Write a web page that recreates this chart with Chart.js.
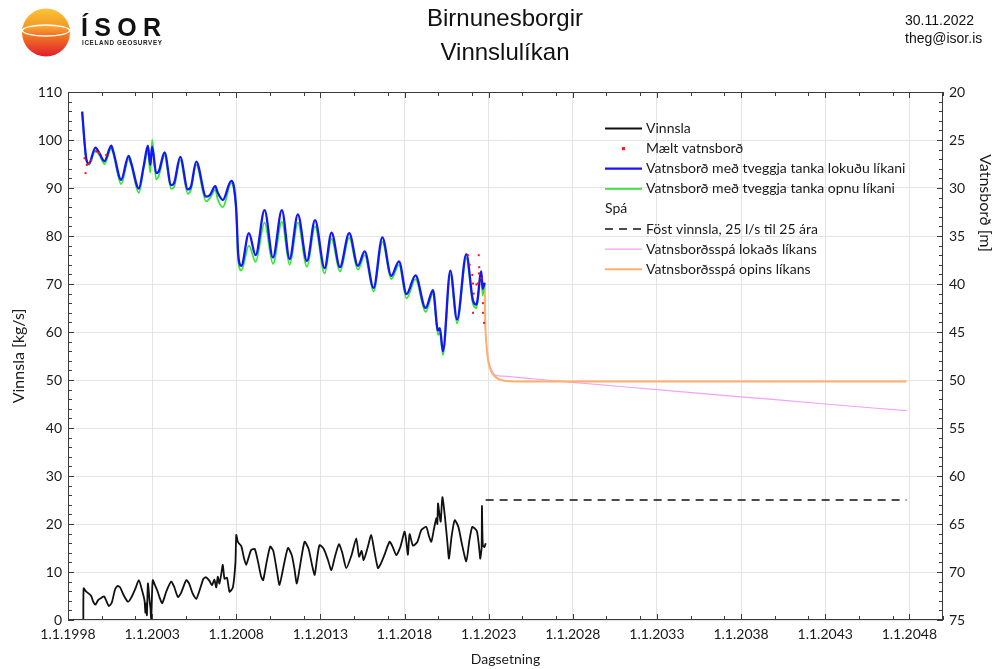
<!DOCTYPE html>
<html lang="is">
<head>
<meta charset="utf-8">
<title>Birnunesborgir - Vinnslulíkan</title>
<script src="https://cdn.jsdelivr.net/npm/chart.js@4.4.0/dist/chart.umd.min.js"></script>
<style>
    body { margin: 0; background: #fff; width: 995px; height: 669px; overflow: hidden; position: relative; }
    #chart { position: absolute; left: 0; top: 0; }
    .logo { position: absolute; left: 0; top: 0; }
    .heading { position: absolute; left: 305px; top: 1px; width: 400px; text-align: center;
        font: 24px "Liberation Sans", Arial, sans-serif; line-height: 34px; color: #111; }
    .stamp { position: absolute; left: 905px; top: 11px; font: 14px "Liberation Sans", Arial, sans-serif;
        line-height: 18px; color: #111; }
</style>
</head>
<body>
<canvas id="chart" width="995" height="669"></canvas>

<svg class="logo" width="175" height="62" viewBox="0 0 175 62">
    <defs>
        <linearGradient id="sun" x1="0" y1="0" x2="0" y2="1">
            <stop offset="0" stop-color="#f9c53a"/>
            <stop offset="0.45" stop-color="#f4901f"/>
            <stop offset="1" stop-color="#e11d2f"/>
        </linearGradient>
        <linearGradient id="band" x1="0" y1="0" x2="0" y2="1">
            <stop offset="0" stop-color="#f9b23a"/>
            <stop offset="1" stop-color="#f26a22"/>
        </linearGradient>
    </defs>
    <circle cx="46" cy="32.5" r="24" fill="url(#sun)"/>
    <ellipse cx="46" cy="30.5" rx="23.6" ry="5.5" fill="url(#band)" stroke="#fff" stroke-width="1.3"/>
    <text x="81" y="36" font-family="Liberation Sans, Arial, sans-serif" font-weight="bold" font-size="25"
          textLength="80" lengthAdjust="spacing" fill="#111">ÍSOR</text>
    <text x="82" y="45" font-family="Liberation Sans, Arial, sans-serif" font-weight="bold" font-size="6.3"
          textLength="80" lengthAdjust="spacing" fill="#222">ICELAND GEOSURVEY</text>
</svg>

<div class="heading">Birnunesborgir<br>Vinnslulíkan</div>
<div class="stamp">30.11.2022<br>theg@isor.is</div>

<script>
// x axis labels (1. jan. of every fifth year)
const yearTicks = [1998, 2003, 2008, 2013, 2018, 2023, 2028, 2033, 2038, 2043, 2048];

// Vinnsla [kg/s], left axis
const vinnslaYears = [
    1998.91, 1998.93, 1999.05, 1999.2, 1999.38, 1999.5, 1999.63, 1999.8, 1999.97, 2000.15,
    2000.3, 2000.43, 2000.6, 2000.8, 2000.96, 2001.1, 2001.3, 2001.56, 2001.75, 2002.0,
    2002.21, 2002.4, 2002.55, 2002.6, 2002.66, 2002.69, 2002.75, 2002.85, 2002.9, 2002.94,
    2003.0, 2003.04, 2003.15, 2003.3, 2003.45, 2003.6, 2003.85, 2004.13, 2004.3, 2004.53,
    2004.7, 2005.03, 2005.2, 2005.4, 2005.62, 2005.85, 2006.05, 2006.21, 2006.4, 2006.55,
    2006.7, 2006.81, 2006.9, 2007.0, 2007.1, 2007.2, 2007.3, 2007.45, 2007.6, 2007.8,
    2007.95, 2008.0, 2008.1, 2008.3, 2008.45, 2008.59, 2008.75, 2008.89, 2009.1, 2009.3,
    2009.48, 2009.6, 2009.8, 2010.02, 2010.2, 2010.4, 2010.57, 2010.8, 2011.07, 2011.3,
    2011.45, 2011.6, 2011.8, 2012.06, 2012.3, 2012.5, 2012.66, 2012.8, 2012.95, 2013.2,
    2013.45, 2013.65, 2013.85, 2014.1, 2014.3, 2014.54, 2014.85, 2015.13, 2015.3, 2015.45,
    2015.57, 2015.8, 2016.02, 2016.2, 2016.42, 2016.6, 2016.8, 2017.11, 2017.3, 2017.51,
    2017.75, 2018.0, 2018.1, 2018.2, 2018.3, 2018.5, 2018.75, 2019.0, 2019.29, 2019.45,
    2019.59, 2019.75, 2019.89, 2019.95, 2019.99, 2020.08, 2020.15, 2020.25, 2020.4, 2020.55,
    2020.64, 2020.8, 2020.98, 2021.2, 2021.4, 2021.67, 2021.85, 2022.03, 2022.3, 2022.45,
    2022.5, 2022.58, 2022.6, 2022.65, 2022.75, 2022.82
];
const vinnsla = [
    0, 6.6, 6.0, 5.6, 5.0, 3.8, 3.2, 4.2, 4.6, 4.9,
    3.8, 2.9, 3.6, 6.4, 7.1, 6.8, 5.2, 3.8, 4.6, 6.5,
    8.3, 6.2, 4.0, 1.5, 3.5, 1.0, 7.6, 4.0, 2.5, 0.0,
    6.0, 8.3, 7.4, 6.2, 4.6, 3.5, 6.0, 8.0, 7.0, 4.8,
    5.5, 8.3, 7.6, 5.6, 4.4, 6.5, 8.6, 8.9, 8.2, 7.2,
    8.4, 6.8, 9.0, 7.6, 9.4, 11.5, 8.6, 8.8, 5.9, 6.8,
    12.0, 17.7, 16.2, 15.4, 13.0, 11.5, 13.2, 14.6, 14.8, 12.0,
    9.0, 8.3, 12.0, 15.3, 14.4, 10.5, 7.3, 11.0, 15.0, 13.5,
    10.8, 7.6, 11.5, 16.3, 14.8, 11.5, 9.4, 12.8, 15.6, 14.8,
    12.5, 10.4, 13.0, 15.8, 14.0, 10.8, 13.5, 17.0, 13.2, 14.4,
    12.5, 15.0, 17.7, 14.5, 10.8, 11.8, 13.5, 16.3, 15.2, 13.5,
    15.2, 18.4, 16.5, 13.6, 17.9, 15.5, 16.2, 18.75, 19.4, 17.5,
    16.3, 19.0, 21.2, 20.0, 24.3, 21.8, 20.5, 25.6, 21.5, 16.0,
    12.8, 17.5, 20.8, 19.4, 16.0, 12.2, 16.5, 19.4, 18.5, 14.5,
    12.8, 15.0, 23.75, 15.6, 15.2, 16.0
];

// Föst vinnsla, 25 l/s til 25 ára
const fastYears = [2022.82, 2047.83];
const fastVinnsla = [25, 25];

// Vatnsborð [m] from the two tank models, right axis
const modelYears = [
    1998.84, 1999.08, 1999.24, 1999.63, 1999.87, 2000.17, 2000.57, 2000.7, 2001.16, 2001.6, 2001.75,
    2002.21, 2002.49, 2002.75, 2002.89, 2003.0, 2003.24, 2003.4, 2003.74, 2004.13, 2004.3,
    2004.67, 2005.12, 2005.3, 2005.62, 2006.21, 2006.45, 2006.75, 2006.9, 2007.2, 2007.7,
    2007.85, 2008.0, 2008.12, 2008.3, 2008.75, 2009.15, 2009.68, 2010.18, 2010.71, 2011.17,
    2011.66, 2012.2, 2012.68, 2013.25, 2013.66, 2014.16, 2014.71, 2015.23, 2015.63, 2016.16,
    2016.68, 2017.21, 2017.67, 2018.12, 2018.65, 2019.25, 2019.69, 2019.99, 2020.1, 2020.28,
    2020.72, 2021.12, 2021.67, 2022.07, 2022.27, 2022.56, 2022.64, 2022.76
];
const lokadLikan = [
    22.05, 26.9, 27.45, 25.8, 26.4, 27.2, 25.6, 26.25, 29.15, 26.65, 27.35,
    30.05, 27.8, 25.6, 27.6, 25.7, 28.45, 28.25, 26.3, 29.7, 29.5,
    26.75, 30.15, 29.9, 27.25, 30.9, 30.7, 29.8, 30.5, 31.25, 29.25,
    29.75, 32.3, 37.0, 38.1, 34.7, 37.0, 32.3, 37.25, 32.3, 37.4,
    32.75, 37.6, 33.35, 38.35, 34.65, 38.25, 34.7, 38.1, 36.6, 40.4,
    35.15, 39.15, 37.65, 41.05, 39.1, 42.5, 40.65, 44.85, 44.6, 47.0,
    38.6, 43.7, 36.9, 41.75, 42.15, 38.7, 40.5, 39.85
];
const opidLikan = [
    22.05, 27.0, 27.6, 26.1, 26.6, 27.5, 25.9, 26.5, 29.6, 27.0, 27.6,
    30.5, 28.0, 26.2, 28.4, 25.0, 29.1, 28.7, 26.6, 30.1, 29.9,
    27.1, 30.6, 30.2, 27.6, 31.4, 31.0, 30.2, 31.2, 32.0, 29.5,
    30.1, 32.6, 37.6, 38.6, 36.0, 37.7, 33.6, 37.9, 33.5, 38.0,
    33.6, 38.2, 34.0, 38.9, 35.3, 38.7, 35.2, 38.5, 37.0, 40.8,
    35.6, 39.5, 38.0, 41.5, 39.5, 42.9, 41.0, 45.3, 45.0, 47.4,
    39.0, 44.1, 37.3, 42.1, 42.5, 38.9, 41.2, 40.0
];

// Mælt vatnsborð [m]
const maeltYears = [
    1998.98, 1999.04, 1999.12, 1999.24, 1999.38, 1999.67, 1999.85, 2000.27,
    2021.77, 2021.87, 2022.03, 2022.07, 2022.11, 2022.07, 2022.27, 2022.36,
    2022.41, 2022.42, 2022.44, 2022.56, 2022.66, 2022.66, 2022.72
];
const maelt = [
    26.9, 28.45, 27.6, 27.4, 27.1, 26.2, 26.35, 26.55,
    37.0, 38.0, 39.05, 39.95, 41.0, 43.0, 40.05, 39.95,
    37.0, 38.9, 38.25, 39.4, 42.0, 43.0, 44.05
];

// Vatnsborðsspá [m]
const spaYears = [2022.76, 2022.8, 2022.86, 2022.96, 2023.16, 2023.46, 2023.85, 2024.85, 2028, 2033, 2038, 2043, 2047.83];
const spaOpid = [39.95, 44.1, 46.2, 47.9, 49.15, 49.75, 50.05, 50.15, 50.15, 50.15, 50.15, 50.15, 50.15];
const spaLokad = [39.95, 44.1, 46.1, 47.7, 48.9, 49.55, 49.6, 49.75, 50.25, 51.0, 51.75, 52.5, 53.2];

const toPoints = (xs, ys) => xs.map((x, i) => ({ x: x, y: ys[i] }));

const FONT = 'Lato, "Liberation Sans", sans-serif';
const INK = '#1a1a1a';

// legend rows, drawn inside the plot; "Spá" is a plain heading
const legendRows = [
    { text: 'Vinnsla', ds: 'vinnsla' },
    { text: 'Mælt vatnsborð', ds: 'maelt', dot: true },
    { text: 'Vatnsborð með tveggja tanka lokuðu líkani', ds: 'lokad' },
    { text: 'Vatnsborð með tveggja tanka opnu líkani', ds: 'opid' },
    { text: 'Spá', heading: true },
    { text: 'Föst vinnsla, 25 l/s til 25 ára', ds: 'fast' },
    { text: 'Vatnsborðsspá lokaðs líkans', ds: 'spaLokad' },
    { text: 'Vatnsborðsspá opins líkans', ds: 'spaOpid' },
];

const framePlugin = {
    id: 'frame',
    afterDatasetsDraw(chart) {
        const { ctx, chartArea: a, scales } = chart;
        ctx.save();
        ctx.strokeStyle = '#3a3a3a';
        ctx.lineWidth = 1;
        ctx.strokeRect(Math.round(a.left) + 0.5, Math.round(a.top) + 0.5, Math.round(a.width) - 1, Math.round(a.height) - 1);

        ctx.beginPath();
        // left axis, every 2 kg/s
        for (let v = 0; v <= 110; v += 2) {
            const y = Math.round(scales.y.getPixelForValue(v)) + 0.5;
            const len = v % 10 === 0 ? 6 : 4;
            ctx.moveTo(a.left, y); ctx.lineTo(a.left + len, y);
        }
        // right axis, every metre
        for (let d = 20; d <= 75; d++) {
            const y = Math.round(scales.y2.getPixelForValue(d)) + 0.5;
            const len = d % 5 === 0 ? 6 : 4;
            ctx.moveTo(a.right, y); ctx.lineTo(a.right - len, y);
        }
        // bottom and top, major at labels and minor two and four years after
        yearTicks.forEach(t => {
            [0, 2, 4].forEach(k => {
                const yr = t + k;
                if (yr > scales.x.max) return;
                const x = Math.round(scales.x.getPixelForValue(yr)) + 0.5;
                const len = k === 0 ? 6 : 4;
                ctx.moveTo(x, a.bottom); ctx.lineTo(x, a.bottom - len);
                ctx.moveTo(x, a.top); ctx.lineTo(x, a.top + len);
            });
        });
        ctx.stroke();

        // right axis title
        ctx.fillStyle = INK;
        ctx.font = '16px ' + FONT;
        ctx.textAlign = 'center';
        ctx.textBaseline = 'middle';
        ctx.translate(985, 203);
        ctx.rotate(Math.PI / 2);
        ctx.fillText('Vatnsborð [m]', 0, 0);
        ctx.restore();
    }
};

const legendPlugin = {
    id: 'boxLegend',
    afterDraw(chart) {
        const { ctx } = chart;
        const sets = chart.data.datasets;
        const x0 = 605, x1 = 642, tx = 646;
        ctx.save();
        ctx.font = '14px ' + FONT;
        ctx.textBaseline = 'middle';
        ctx.fillStyle = INK;
        legendRows.forEach((row, i) => {
            const y = 128.5 + i * 20.1;
            if (row.heading) {
                ctx.fillText(row.text, x0, y);
                return;
            }
            const ds = sets.find(s => s.key === row.ds);
            if (row.dot) {
                ctx.fillStyle = ds.pointBackgroundColor;
                ctx.fillRect((x0 + x1) / 2 - 1.5, y - 1.5, 3, 3);
            } else {
                ctx.beginPath();
                ctx.strokeStyle = ds.borderColor;
                ctx.lineWidth = ds.borderWidth;
                ctx.setLineDash(ds.borderDash || []);
                ctx.moveTo(x0, y); ctx.lineTo(x1, y);
                ctx.stroke();
                ctx.setLineDash([]);
            }
            ctx.fillStyle = INK;
            ctx.fillText(row.text, tx, y);
        });
        ctx.restore();
    }
};

new Chart(document.getElementById('chart'), {
    type: 'line',
    data: {
        datasets: [
            {
                key: 'maelt', label: 'Mælt vatnsborð', yAxisID: 'y2', order: 0,
                data: toPoints(maeltYears, maelt), showLine: false,
                pointStyle: 'rect', pointRadius: 1.4, pointBorderWidth: 0,
                pointBackgroundColor: '#ff1010', borderColor: '#ff1010',
            },
            {
                key: 'lokad', label: 'Vatnsborð með tveggja tanka lokuðu líkani', yAxisID: 'y2', order: 1,
                data: toPoints(modelYears, lokadLikan), borderColor: '#1414ff', borderWidth: 2.3,
                cubicInterpolationMode: 'monotone',
            },
            {
                key: 'opid', label: 'Vatnsborð með tveggja tanka opnu líkani', yAxisID: 'y2', order: 2,
                data: toPoints(modelYears, opidLikan), borderColor: '#33e633', borderWidth: 1.8,
                cubicInterpolationMode: 'monotone',
            },
            {
                key: 'spaOpid', label: 'Vatnsborðsspá opins líkans', yAxisID: 'y2', order: 3,
                data: toPoints(spaYears, spaOpid), borderColor: '#ffb06a', borderWidth: 2,
                cubicInterpolationMode: 'monotone',
            },
            {
                key: 'spaLokad', label: 'Vatnsborðsspá lokaðs líkans', yAxisID: 'y2', order: 4,
                data: toPoints(spaYears, spaLokad), borderColor: '#f7a0f7', borderWidth: 1.2,
                cubicInterpolationMode: 'monotone',
            },
            {
                key: 'vinnsla', label: 'Vinnsla', yAxisID: 'y', order: 5,
                data: toPoints(vinnslaYears, vinnsla), borderColor: '#111', borderWidth: 1.8,
                tension: 0.2,
            },
            {
                key: 'fast', label: 'Föst vinnsla, 25 l/s til 25 ára', yAxisID: 'y', order: 6,
                data: toPoints(fastYears, fastVinnsla), borderColor: '#111', borderWidth: 1.6,
                borderDash: [8, 6],
            },
        ]
    },
    options: {
        responsive: false,
        animation: false,
        events: [],
        layout: { padding: { top: 92, left: 0, right: 0, bottom: 0 } },
        elements: { point: { radius: 0 }, line: { tension: 0 } },
        plugins: { legend: { display: false }, tooltip: { enabled: false } },
        scales: {
            x: {
                type: 'linear', min: 1998, max: 2050,
                afterBuildTicks: (scale) => { scale.ticks = yearTicks.map(v => ({ value: v })); },
                afterFit: (scale) => { scale.height = 49; },
                grid: { color: '#e4e4e4', drawTicks: false },
                border: { display: false },
                ticks: {
                    padding: 6, maxRotation: 0, autoSkip: false, color: INK,
                    font: { family: FONT, size: 14 },
                    callback: (v) => '1.1.' + v,
                },
                title: { display: true, text: 'Dagsetning', color: INK, padding: { top: 0, bottom: 1 },
                    font: { family: FONT, size: 14 } },
            },
            y: {
                position: 'left', min: 0, max: 110,
                afterFit: (scale) => { scale.width = 68; },
                grid: { color: '#e4e4e4', drawTicks: false },
                border: { display: false },
                ticks: { stepSize: 10, padding: 6, color: INK, font: { family: FONT, size: 14 } },
                title: { display: true, text: 'Vinnsla [kg/s]', color: INK, padding: 9,
                    font: { family: FONT, size: 16 } },
            },
            y2: {
                position: 'right', min: 20, max: 75, reverse: true,
                afterFit: (scale) => { scale.width = 52; },
                grid: { drawOnChartArea: false, drawTicks: false },
                border: { display: false },
                ticks: { stepSize: 5, padding: 6, color: INK, font: { family: FONT, size: 14 } },
            },
        }
    },
    plugins: [framePlugin, legendPlugin]
});
</script>
</body>
</html>
